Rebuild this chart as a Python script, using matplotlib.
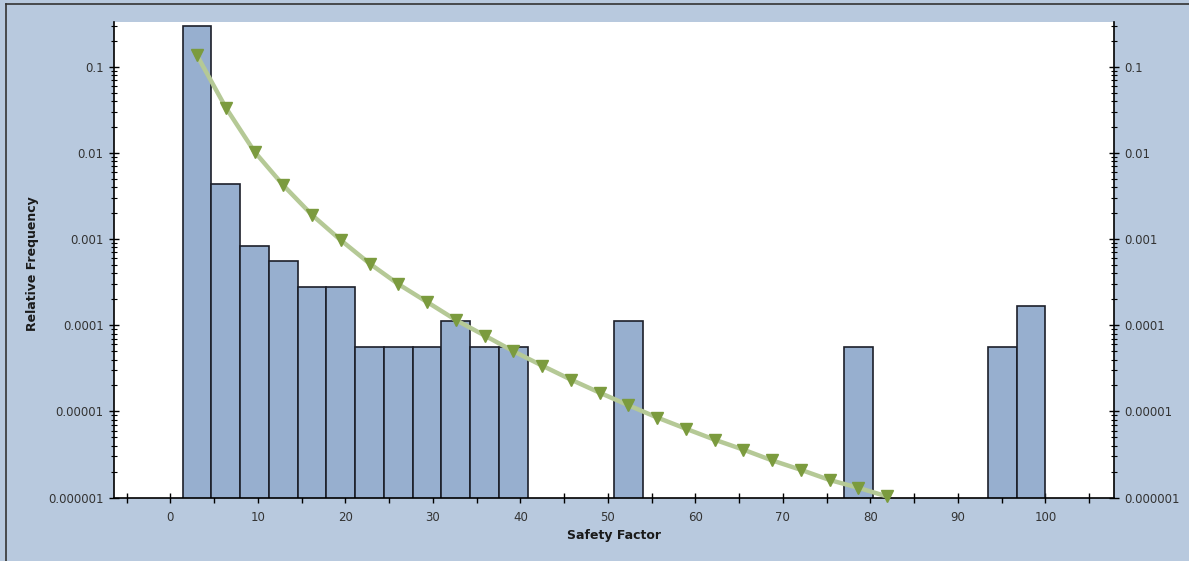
import matplotlib.pyplot as plt
import numpy as np
from matplotlib.lines import Line2D
from matplotlib.ticker import FixedLocator, LogLocator, NullFormatter

# histogram bins: 30 equal bins between the smallest and largest safety factor
bin_lo = 1.4
bin_hi = 100.0
n_bins = 30

# relative frequency per bin (0 = empty bin)
rel_freq = [0.296, 0.00436, 0.000838, 0.000559, 0.000279, 0.000279,
            0.0000559, 0.0000559, 0.0000559, 0.000112, 0.0000559, 0.0000559,
            0, 0, 0, 0.000112, 0, 0,
            0, 0, 0, 0, 0, 0.0000559,
            0, 0, 0, 0, 0.0000559, 0.000168]

# fitted distribution evaluated at the first 25 bin centres
fit_freq = [0.135, 0.0335, 0.0103, 0.0042, 0.0019, 0.00097, 0.00052,
            0.0003, 0.000186, 0.000115, 0.000076, 0.000050, 0.000034,
            0.0000234, 0.0000165, 0.0000118, 0.0000085, 0.0000063,
            0.0000047, 0.0000036, 0.0000027, 0.0000021, 0.0000016,
            0.0000013, 0.00000103]

y_ticks = [1e-6, 1e-5, 1e-4, 1e-3, 1e-2, 1e-1]
y_tick_labels = ["0.000001", "0.00001", "0.0001", "0.001", "0.01", "0.1"]
x_ticks = list(range(0, 101, 10))

bg = "#b8c9de"
bar_color = "#97afcf"
text_color = "#333333"

edges = np.linspace(bin_lo, bin_hi, n_bins + 1)
width = edges[1] - edges[0]
centres = edges[:-1] + width / 2
heights = np.array(rel_freq)
filled = heights > 0

fig = plt.figure(figsize=(11.89, 5.61), dpi=100, facecolor=bg)
ax = fig.add_axes([114 / 1189, 1 - 497.6 / 561, 1000 / 1189, 475.6 / 561])
ax.set_facecolor("white")

ax.bar(edges[:-1][filled], heights[filled], width=width, align="edge",
       bottom=1e-7, color=bar_color, edgecolor="#1c1f2a", linewidth=1.2,
       zorder=2)

ax.plot(centres[:len(fit_freq)], fit_freq, color="#b5c996", linewidth=3.2,
        marker="v", markersize=9, markerfacecolor="#7b9b3e",
        markeredgecolor="#7b9b3e", zorder=3, clip_on=False)

ax.set_yscale("log")
ax.set_ylim(1e-6, 0.33)
ax.set_xlim(-6.45, 107.85)

ax.set_yticks(y_ticks)
ax.set_yticklabels(y_tick_labels)
ax.yaxis.set_minor_locator(LogLocator(base=10, subs=np.arange(2, 10)))
ax.yaxis.set_minor_formatter(NullFormatter())
ax.set_xticks(x_ticks)
ax.xaxis.set_minor_locator(FixedLocator(np.arange(-5, 110, 10)))

ax.tick_params(axis="y", which="both", left=True, right=True,
               labelleft=True, labelright=True, direction="inout")
ax.tick_params(axis="y", which="major", length=7, width=1, pad=4)
ax.tick_params(axis="y", which="minor", length=5, width=0.8)
ax.tick_params(axis="x", which="both", direction="inout", length=7,
               width=1, pad=6)
ax.tick_params(which="both", labelsize=8.5, labelcolor=text_color)

ax.spines["top"].set_visible(False)
for side in ["left", "right", "bottom"]:
    ax.spines[side].set_linewidth(1.2)
    ax.spines[side].set_color("black")

fig.text(614 / 1189, 1 - 536 / 561, "Safety Factor", ha="center",
         va="center", fontsize=9, fontweight="bold", color="#1a1a1a")
fig.text(33 / 1189, 1 - 264 / 561, "Relative Frequency", ha="center",
         va="center", rotation=90, fontsize=9, fontweight="bold",
         color="#1a1a1a")

# dark frame along the top and left edge of the chart
fig.add_artist(Line2D([6 / 1189, 6 / 1189], [0, 1 - 4 / 561],
                      color="#333333", linewidth=1.2))
fig.add_artist(Line2D([6 / 1189, 1], [1 - 4 / 561, 1 - 4 / 561],
                      color="#333333", linewidth=1.2))

fig.savefig("out.png", dpi=100, facecolor=bg)
